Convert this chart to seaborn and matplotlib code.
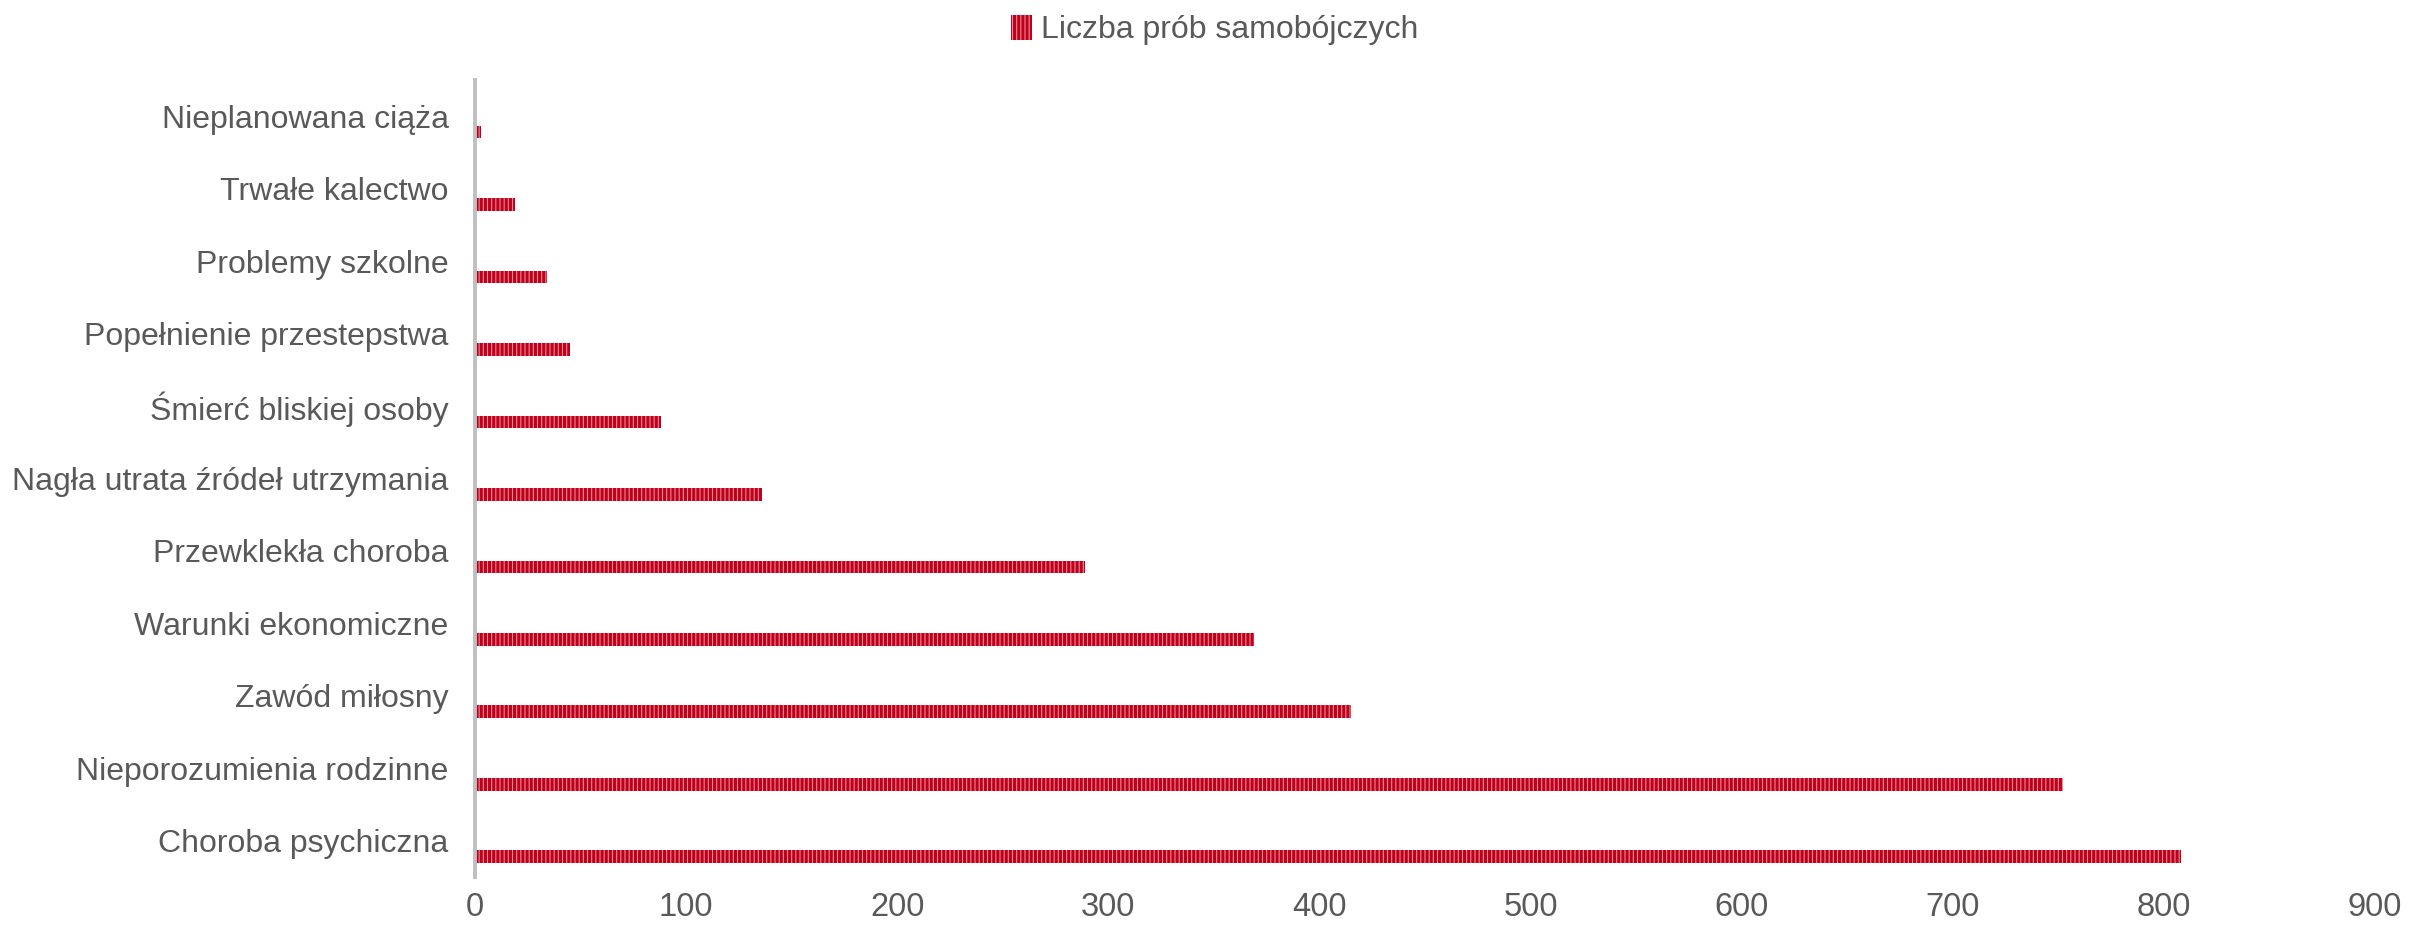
import numpy as np
import seaborn as sns
import matplotlib
matplotlib.use('Agg')
import matplotlib.pyplot as plt

# data (top to bottom)
causes = ['Nieplanowana ciąża', 'Trwałe kalectwo', 'Problemy szkolne',
          'Popełnienie przestepstwa', 'Śmierć bliskiej osoby',
          'Nagła utrata źródeł utrzymania', 'Przewklekła choroba',
          'Warunki ekonomiczne', 'Zawód miłosny', 'Nieporozumienia rodzinne',
          'Choroba psychiczna']
attempts = [3, 19, 34, 45, 88, 136, 289, 369, 415, 752, 808]
series_name = 'Liczba prób samobójczych'
x_ticks = [0, 100, 200, 300, 400, 500, 600, 700, 800, 900]

sns.set_style('white')
plt.rcParams['font.family'] = ['Liberation Sans', 'DejaVu Sans']
plt.rcParams['hatch.linewidth'] = 2.2

text_col = '#595959'
bar_dark = '#C0001A'
bar_light = '#E38C97'

fig = plt.figure(figsize=(24.3, 9.32), dpi=100)
ax = fig.add_axes([0.1955, 0.059, 0.7819, 0.8553])

sns.barplot(x=attempts, y=causes, orient='h', width=0.175,
            color=bar_light, ax=ax)
for p in ax.patches:
    p.set_facecolor(bar_light)
    p.set_edgecolor(bar_dark)
    p.set_linewidth(0)
    p.set_hatch('||||')

# bars sit a bit below the category centre (empty second series in the original)
off = 0.22
ax.set_yticks(np.arange(len(causes)) - off, labels=causes)
ax.set_ylim(len(causes) - 1 - off + 0.5, -off - 0.5)
ax.set_xlim(0, 900)
ax.set_xticks(x_ticks)

ax.tick_params(axis='y', length=0, pad=19, labelsize=23, labelcolor=text_col)
ax.tick_params(axis='x', length=0, pad=11, labelsize=23.5, labelcolor=text_col)
ax.set_xlabel('')
ax.set_ylabel('')

for s in ['top', 'right', 'bottom']:
    ax.spines[s].set_visible(False)
ax.spines['left'].set_color('#BFBFBF')
ax.spines['left'].set_linewidth(2.8)
ax.spines['left'].set_zorder(5)

fig.legend(handles=[ax.patches[0]], labels=[series_name], loc='upper center',
           bbox_to_anchor=(0.5, 0.998), frameon=False, fontsize=23,
           labelcolor=text_col, handlelength=0.65, handleheight=0.85,
           handletextpad=0.3, borderaxespad=0.0)

fig.savefig('out.png', dpi=100)
